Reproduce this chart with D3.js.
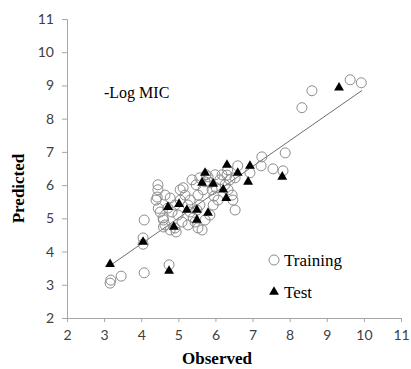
<!DOCTYPE html>
<html>
<head>
<meta charset="utf-8">
<script src="https://cdn.jsdelivr.net/npm/d3@7"></script>
<style>
  body { margin: 0; background: #fff; }
  svg { display: block; }
  .tick text { font-family: Lato, "Open Sans", sans-serif; font-size: 14px; fill: #404040; }
  .axis path, .axis line { stroke: #a6a6a6; }
  .serif { font-family: "Liberation Serif", "Times New Roman", serif; }
</style>
</head>
<body>
<svg width="411" height="369"></svg>
<script>
// training set: observed / predicted (-Log MIC)
var trainObs = [3.16, 3.18, 3.46, 4.08, 4.75, 4.08, 4.05, 4.05,
    4.45, 4.45, 4.43, 4.40, 4.51, 4.59, 4.64, 4.78, 4.91, 4.94,
    5.05, 5.13, 5.18, 5.26, 5.32, 4.99, 4.83, 4.72, 5.10, 5.26,
    5.40, 5.45, 5.50, 5.58, 5.53, 5.67, 5.72, 5.80, 5.85, 5.91,
    5.96, 6.07, 6.02, 6.12, 6.18, 5.99, 5.75, 5.58, 5.48, 5.37,
    5.53, 5.64, 5.72, 5.85, 5.94, 6.26, 6.39, 6.53, 6.34, 6.45,
    6.53, 6.47, 4.78, 4.64, 4.91, 5.05, 5.32, 4.46, 4.60, 4.60,
    6.60, 6.33, 6.93, 6.31, 7.25, 7.23, 7.55, 7.82, 7.88,
    8.33, 8.60, 9.63, 9.93];
var trainPred = [3.05, 3.14, 3.26, 3.36, 3.60, 4.95, 4.41, 4.22,
    6.01, 5.86, 5.64, 5.55, 5.19, 5.01, 4.80, 4.65, 4.71, 4.59,
    5.86, 5.92, 5.70, 5.40, 5.19, 5.10, 5.19, 5.31, 4.89, 4.80,
    5.01, 4.89, 5.25, 5.40, 5.70, 5.86, 6.10, 6.25, 6.07, 5.86,
    5.67, 5.55, 5.92, 6.16, 6.31, 6.31, 6.31, 6.22, 6.01, 6.16,
    4.71, 4.65, 4.95, 5.10, 5.40, 6.01, 6.16, 6.22, 5.86, 5.70,
    5.25, 5.55, 5.61, 5.70, 5.40, 5.55, 5.55, 5.30, 4.95, 4.74,
    6.58, 6.46, 6.37, 6.30, 6.85, 6.58, 6.49, 6.43, 6.97,
    8.33, 8.84, 9.17, 9.08];

// test set
var testObs = [3.16, 4.05, 4.75, 4.72, 4.88, 5.02, 5.23, 5.50, 5.50,
    5.80, 5.64, 5.72, 5.94, 6.21, 6.29, 6.31, 6.60, 6.93, 6.88, 7.80, 9.33];
var testPred = [3.62, 4.29, 3.42, 5.34, 4.74, 5.43, 5.25, 4.95, 5.25,
    5.16, 6.07, 6.37, 6.04, 5.86, 5.61, 6.61, 6.37, 6.58, 6.10, 6.25, 8.93];

// fitted line end points
var fitObs = [3.15, 9.95];
var fitPred = [3.57, 8.85];

var xTicks = [2, 3, 4, 5, 6, 7, 8, 9, 10, 11];
var yTicks = [2, 3, 4, 5, 6, 7, 8, 9, 10, 11];

var svg = d3.select("svg");
var margin = {left: 67, top: 19},
    plotW = 334, plotH = 299;

var x = d3.scaleLinear().domain([2, 11]).range([0, plotW]);
var y = d3.scaleLinear().domain([2, 11]).range([plotH, 0]);

var g = svg.append("g")
    .attr("transform", "translate(" + margin.left + "," + margin.top + ")");

// axes
g.append("g")
    .attr("class", "axis")
    .attr("transform", "translate(0," + plotH + ")")
    .call(d3.axisBottom(x).tickValues(xTicks).tickSize(4).tickPadding(12))
    .call(function(a) { a.selectAll("text").attr("dy", "0.4em"); });

g.append("g")
    .attr("class", "axis")
    .call(d3.axisLeft(y).tickValues(yTicks).tickSize(5).tickPadding(8));

// regression line
g.append("line")
    .attr("x1", x(fitObs[0])).attr("y1", y(fitPred[0]))
    .attr("x2", x(fitObs[1])).attr("y2", y(fitPred[1]))
    .attr("stroke", "#6f6f6f")
    .attr("stroke-width", 1);

// training points
g.selectAll("circle.train")
    .data(trainObs)
    .enter().append("circle")
    .attr("class", "train")
    .attr("cx", function(d) { return x(d); })
    .attr("cy", function(d, i) { return y(trainPred[i]); })
    .attr("r", 5)
    .attr("fill", "none")
    .attr("stroke", "#8c8c8c")
    .attr("stroke-width", 1);

// test points
var tri = d3.symbol().type(d3.symbolTriangle).size(42);
g.selectAll("path.test")
    .data(testObs)
    .enter().append("path")
    .attr("class", "test")
    .attr("d", tri)
    .attr("transform", function(d, i) {
        return "translate(" + x(d) + "," + y(testPred[i]) + ")";
    })
    .attr("fill", "#000");

// annotation
svg.append("text")
    .attr("class", "serif")
    .attr("x", 104).attr("y", 98)
    .attr("font-size", 16)
    .text("-Log MIC");

// legend
svg.append("circle")
    .attr("cx", 274).attr("cy", 260).attr("r", 5)
    .attr("fill", "none").attr("stroke", "#8c8c8c");
svg.append("text")
    .attr("class", "serif")
    .attr("x", 284).attr("y", 266)
    .attr("font-size", 17)
    .text("Training");
svg.append("path")
    .attr("d", tri)
    .attr("transform", "translate(274,292)")
    .attr("fill", "#000");
svg.append("text")
    .attr("class", "serif")
    .attr("x", 284).attr("y", 298)
    .attr("font-size", 17)
    .text("Test");

// axis titles
svg.append("text")
    .attr("class", "serif")
    .attr("text-anchor", "middle")
    .attr("transform", "translate(24," + (margin.top + plotH / 2 + 20) + ")rotate(-90)")
    .attr("font-weight", "bold")
    .attr("font-size", 17)
    .text("Predicted");

svg.append("text")
    .attr("class", "serif")
    .attr("text-anchor", "middle")
    .attr("x", 217).attr("y", 364)
    .attr("font-weight", "bold")
    .attr("font-size", 17)
    .text("Observed");
</script>
</body>
</html>
